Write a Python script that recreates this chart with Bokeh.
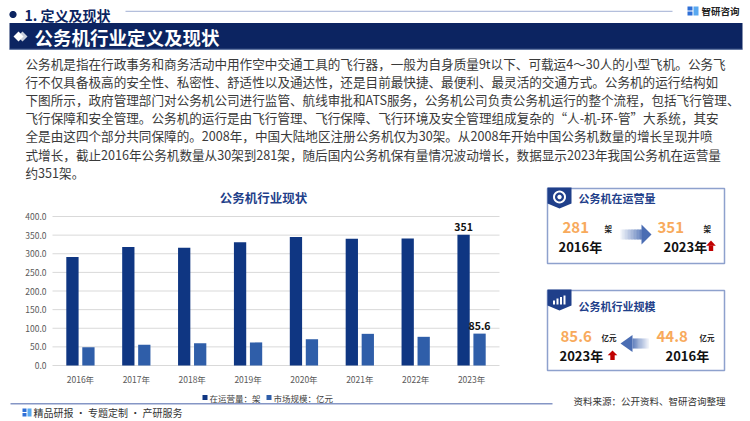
import math
from bokeh.plotting import figure
from bokeh.models import (ColumnDataSource, Range1d, Label, LabelSet,
                          BoxAnnotation, PolyAnnotation)
from bokeh.core.properties import value
from bokeh.transform import dodge
from bokeh.embed import file_html
from bokeh.resources import INLINE

# ---------------- data ----------------
years = ["2016年", "2017年", "2018年", "2019年", "2020年", "2021年", "2022年", "2023年"]
fleet = [291, 318, 316, 331, 345, 340, 341, 351]          # 在运营量：架
market = [49, 56, 60, 62, 70.5, 85, 77, 85.6]             # 市场规模：亿元
y_ticks = [0, 50, 100, 150, 200, 250, 300, 350, 400]
series_names = ["在运营量：架", "市场规模：亿元"]

header = "1. 定义及现状"
banner = "公务机行业定义及现状"
para = [
    "公务机是指在行政事务和商务活动中用作空中交通工具的飞行器，一般为自身质量9t以下、可载运4～30人的小型飞机。公务飞",
    "行不仅具备极高的安全性、私密性、舒适性以及通达性，还是目前最快捷、最便利、最灵活的交通方式。公务机的运行结构如",
    "下图所示，政府管理部门对公务机公司进行监管、航线审批和ATS服务，公务机公司负责公务机运行的整个流程，包括飞行管理、",
    "飞行保障和安全管理。公务机的运行是由飞行管理、飞行保障、飞行环境及安全管理组成复杂的“人-机-环-管”大系统，其安",
    "全是由这四个部分共同保障的。2008年，中国大陆地区注册公务机仅为30架。从2008年开始中国公务机数量的增长呈现井喷",
    "式增长，截止2016年公务机数量从30架到281架，随后国内公务机保有量情况波动增长，数据显示2023年我国公务机在运营量",
    "约351架。",
]
chart_title = "公务机行业现状"

FONT = "Noto Sans CJK SC"
NAVY = "#0c2461"
DARK_BAR = "#0f3682"
LIGHT_BAR = "#2f5ea9"
ORANGE = "#f8aa5c"
TAB = "#1f3f8a"

# ---------------- figure: frame = whole canvas, default ranges = page pixels ----------------
W, H = 750, 421
n = len(years)
p = figure(width=W, height=H, x_range=Range1d(0, W), y_range=Range1d(H, 0),
           x_axis_type=None, y_axis_type=None, output_backend="svg", toolbar_location=None,
           min_border=0)
p.outline_line_color = None
p.background_fill_color = "white"
p.border_fill_color = "white"
p.grid.visible = False

# chart scales: category index on x (plot area page x 52..499), value on y (page y 365..216)
PLOT_L, PLOT_R, PLOT_B, PLOT_T = 52, 499, 365, 216
ymax = y_ticks[-1]
xs_px = (PLOT_R - PLOT_L) / n
ys_px = (PLOT_B - PLOT_T) / ymax
p.extra_x_ranges = {"cx": Range1d(-PLOT_L / xs_px, n + (W - PLOT_R) / xs_px)}
p.extra_y_ranges = {"cy": Range1d(-(H - PLOT_B) / ys_px, ymax + PLOT_T / ys_px)}

pos = [i + 0.5 for i in range(n)]
src = ColumnDataSource(dict(pos=pos, year=years, fleet=fleet, market=market))

# gridlines
gsrc = ColumnDataSource(dict(t=y_ticks, x0=[0] * len(y_ticks), x1=[n] * len(y_ticks),
                             lab=[f"{t:.1f}" for t in y_ticks], lx=[PLOT_L - 6] * len(y_ticks)))
p.segment(x0="x0", x1="x1", y0="t", y1="t", source=gsrc, x_range_name="cx", y_range_name="cy",
          line_color="#d9d9d9", line_width=1)

p.vbar(x=dodge("pos", -0.143), top="fleet", width=0.22, source=src,
       x_range_name="cx", y_range_name="cy", fill_color=DARK_BAR, line_color=None)
p.vbar(x=dodge("pos", 0.143), top="market", width=0.22, source=src,
       x_range_name="cx", y_range_name="cy", fill_color=LIGHT_BAR, line_color=None)

# y tick labels (page x, value y)
p.add_layout(LabelSet(x="lx", y="t", text="lab", source=gsrc, y_range_name="cy",
                      text_font=value(FONT), text_font_size="8.5px", text_color="#595959",
                      text_align="right", text_baseline="middle"))
# x tick labels (category x, page y)
xsrc = ColumnDataSource(dict(pos=pos, year=years, ly=[PLOT_B + 13] * n))
p.add_layout(LabelSet(x="pos", y="ly", text="year", source=xsrc, x_range_name="cx",
                      text_font=value(FONT), text_font_size="8.5px", text_color="#595959",
                      text_align="center", text_baseline="middle"))

last = ColumnDataSource(dict(pos=[pos[-1]], fleet=[fleet[-1]], market=[market[-1]],
                             ft=[f"{fleet[-1]:g}"], mt=[f"{market[-1]:g}"]))
p.add_layout(LabelSet(x=dodge("pos", -0.143), y="fleet", text="ft", source=last,
                      x_range_name="cx", y_range_name="cy",
                      text_font=value(FONT), text_font_size="10.5px", text_font_style="bold",
                      text_color="#111111", text_align="center", text_baseline="bottom", y_offset=4))
p.add_layout(LabelSet(x=dodge("pos", 0.143), y="market", text="mt", source=last,
                      x_range_name="cx", y_range_name="cy",
                      text_font=value(FONT), text_font_size="10.5px", text_font_style="bold",
                      text_color="#111111", text_align="center", text_baseline="bottom", y_offset=4))


# ---------------- helpers (page pixel coordinates) ----------------
def lab(x, y, text, size, color="#333333", bold=False, align="left", baseline="middle"):
    p.add_layout(Label(x=x, y=y, text=text,
                       text_font=FONT, text_font_size=f"{size}px", text_color=color,
                       text_font_style="bold" if bold else "normal",
                       text_align=align, text_baseline=baseline))


def box(l, r, t, b, fill, line=None, lw=1.0, alpha=1.0):
    p.add_layout(BoxAnnotation(left=l, right=r, top=t, bottom=b,
                               fill_color=fill, fill_alpha=alpha,
                               line_color=line if line else fill, line_width=lw,
                               line_alpha=1.0 if line else 0.0))


def poly(xs, ys, fill, alpha=1.0):
    p.add_layout(PolyAnnotation(xs=list(xs), ys=list(ys),
                                fill_color=fill, fill_alpha=alpha, line_alpha=0))


def circle(cx, cy, r, fill, k=28):
    poly([cx + r * math.cos(2 * math.pi * j / k) for j in range(k)],
         [cy + r * math.sin(2 * math.pi * j / k) for j in range(k)], fill)


def mix(c1, c2, t):
    a = [int(c1[i:i + 2], 16) for i in (1, 3, 5)]
    b = [int(c2[i:i + 2], 16) for i in (1, 3, 5)]
    return "#" + "".join(f"{round(a[i] + (b[i] - a[i]) * t):02x}" for i in range(3))


def grad_arrow(tail, tip, cy, body_h, head_h, head_len, color="#4a6db3", k=14):
    d = 1 if tip > tail else -1
    neck = tip - d * head_len
    for i in range(k):
        x0 = tail + (neck - tail) * i / k
        x1 = tail + (neck - tail) * (i + 1) / k
        c = mix("#f4f6fb", color, (i + 0.5) / k * 0.85)
        box(min(x0, x1), max(x0, x1) + 0.4, cy - body_h, cy + body_h, c)
    poly([neck, tip, neck], [cy - head_h, cy, cy + head_h], color)


def red_up(cx, top, bottom):
    mid = top + (bottom - top) * 0.5
    poly([cx - 4.8, cx, cx + 4.8], [mid, top, mid], "#c00000")
    box(cx - 2.2, cx + 2.2, mid - 0.3, bottom, "#c00000")


# ---------------- header ----------------
circle(12.5, 14, 3.6, NAVY)
lab(24, 14, header, 14, NAVY, bold=True)
box(125, 672, 10.2, 11.6, "#b4bfdc")
# logo
box(687, 692, 6, 10, "#2f6fd6")
box(687, 692, 11, 15, "#2f6fd6")
box(693, 698, 6, 15, "#58a8f0")
lab(701, 10.5, "智研咨询", 9.5, "#222222", bold=True)

# banner
box(9, 742, 22.5, 49, NAVY)
box(9, 742, 48.3, 49.3, "#5a6f9e")
poly([17, 22, 27, 22], [36, 31, 36, 41], "#c9cfdc")
poly([13, 18, 23, 18], [36, 31, 36, 41], "#ffffff")
lab(34, 36, banner, 18.5, "#ffffff", bold=True)

# paragraph
for i, line in enumerate(para):
    lab(25, 62.5 + 18.2 * i, line, 12.6, "#3a3a3a")

# chart title + legend
lab(263, 197, chart_title, 12.5, "#1f3f8a", bold=True, align="center")
box(202, 207, 394.5, 399.5, DARK_BAR)
lab(209, 397, series_names[0], 8.5, "#404040")
box(266, 271, 394.5, 399.5, LIGHT_BAR)
lab(273, 397, series_names[1], 8.5, "#404040")

# footer
box(10, 552, 402.6, 403.9, "#8596c5")
box(22, 26, 408, 411.5, "#2f6fd6")
box(22, 26, 412.5, 416, "#2f6fd6")
box(27, 31, 408, 416, "#58a8f0")
lab(33, 412, "精品研报 · 专题定制 · 产研服务", 10, "#333333")
lab(573, 400, "资料来源：公开资料、智研咨询整理", 9.5, "#333333")

# ---------------- right panels ----------------
# panel 1: fleet
box(547, 724, 188, 263, "white", line="#8ea1cd", lw=1.5)
poly([547, 571, 571, 559, 547], [187, 187, 203, 208, 203], TAB)
circle(559, 196.5, 6.5, "#ffffff")
circle(559, 196.5, 4.5, TAB)
circle(559, 196.5, 2.2, "#ffffff")
lab(578, 197.5, "公务机在运营量", 11, TAB, bold=True)
lab(562, 227, "281", 15, ORANGE, bold=True)
lab(604, 228, "架", 7.5, "#222222", bold=True)
lab(558, 246, years[0], 13, "#111111", bold=True)
grad_arrow(620, 651, 234, 5, 10, 10)
lab(657, 227, f"{fleet[-1]:g}", 15, ORANGE, bold=True)
lab(703, 228, "架", 7.5, "#222222", bold=True)
lab(663, 246, years[-1], 13, "#111111", bold=True)
red_up(710.5, 240, 250.5)

# panel 2: market
box(547, 724, 290, 370, "white", line="#8ea1cd", lw=1.5)
poly([547, 571, 571, 559, 547], [289, 289, 305, 310, 305], TAB)
box(552.5, 554.5, 300, 304, "#ffffff")
box(556, 558, 298, 304, "#ffffff")
box(559.5, 561.5, 296.5, 304, "#ffffff")
box(563, 565, 295, 304, "#ffffff")
lab(578, 305.5, "公务机行业规模", 11, TAB, bold=True)
lab(560, 336, f"{market[-1]:g}", 15, ORANGE, bold=True)
lab(601, 337, "亿元", 7.5, "#222222", bold=True)
grad_arrow(648, 620, 343, 5, 8.5, 12)
lab(656, 336, "44.8", 15, ORANGE, bold=True)
lab(699, 337, "亿元", 7.5, "#222222", bold=True)
lab(559, 355, years[-1], 13, "#111111", bold=True)
red_up(612, 350, 359.5)
lab(665, 355, years[0], 13, "#111111", bold=True)

open("out.html", "w").write(file_html(p, INLINE))
